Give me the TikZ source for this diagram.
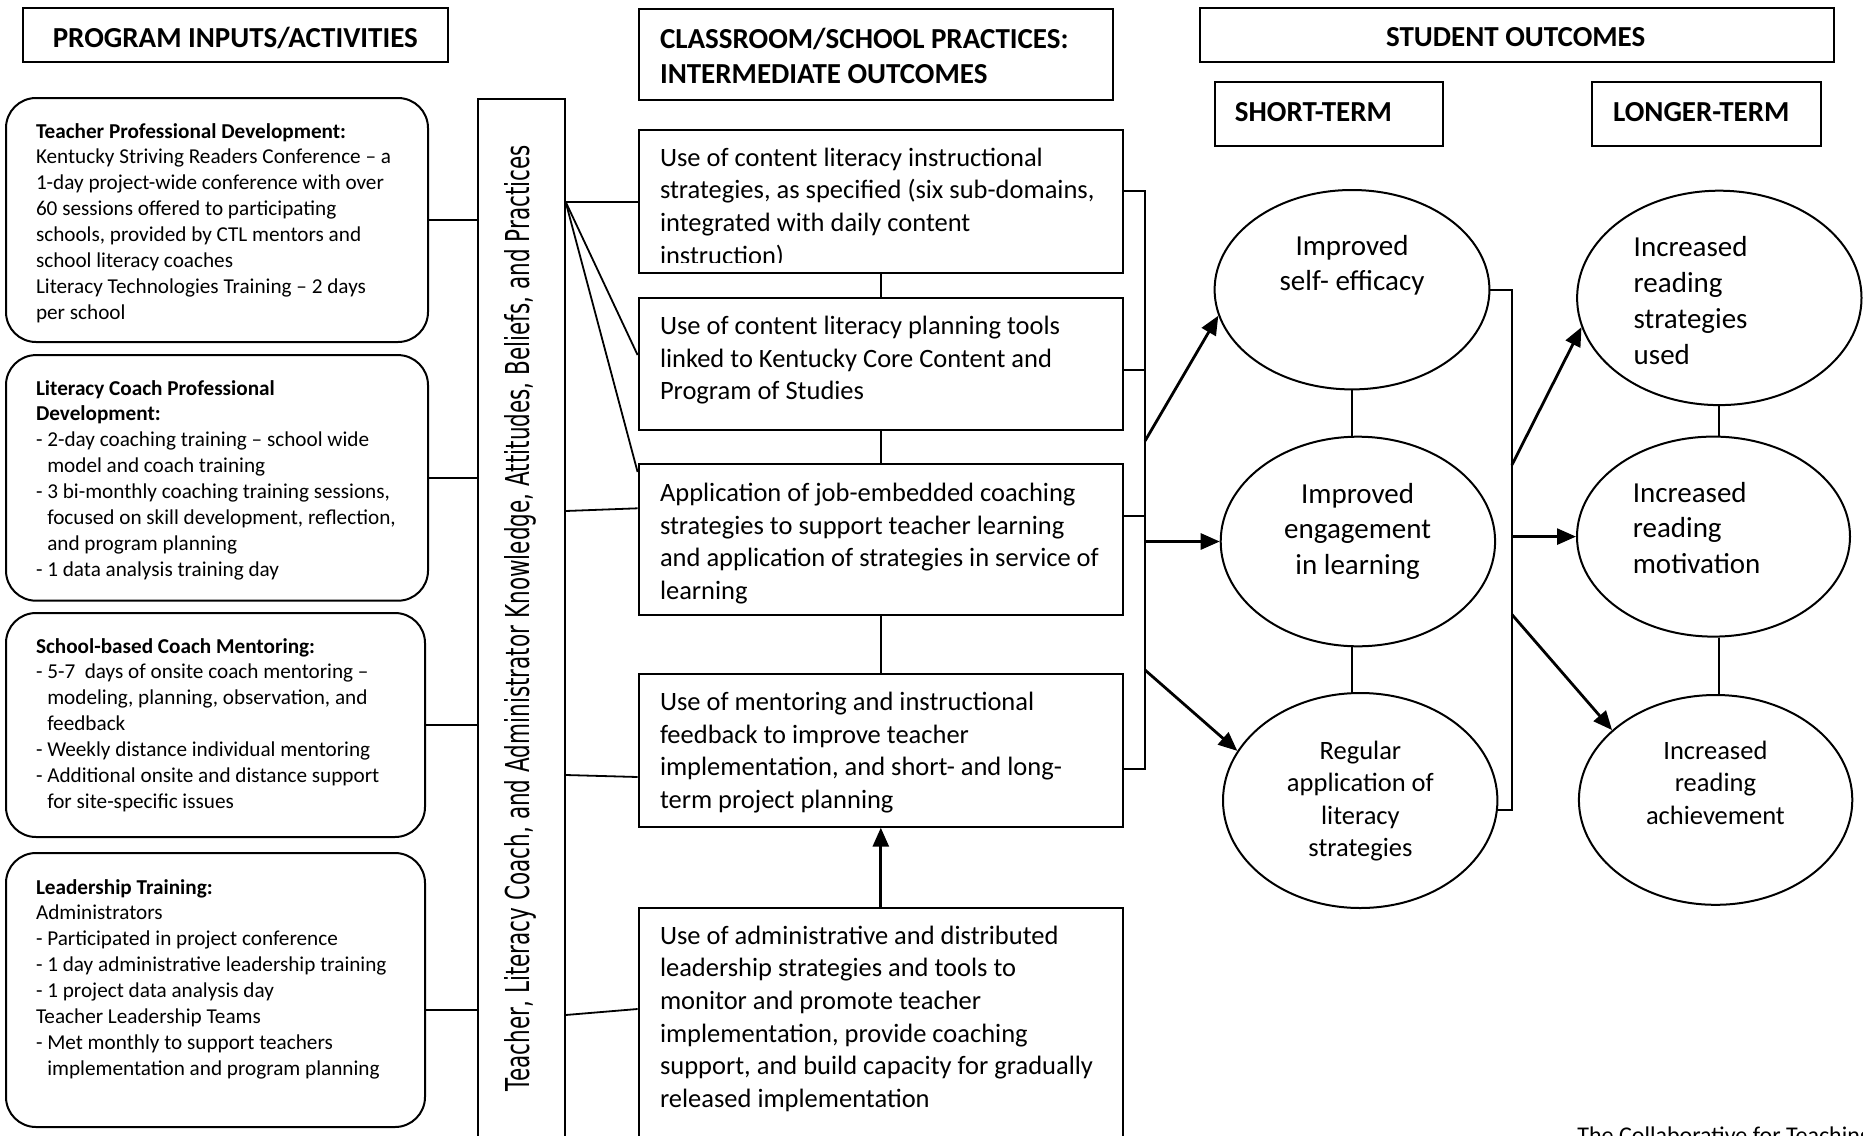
\documentclass[tikz,border=0pt]{standalone}
\usepackage{fontspec}
\usepackage{graphicx}
\setmainfont{Carlito}
\newfontfamily\vertfont{DejaVu Sans}
\usetikzlibrary{arrows.meta,shapes.geometric,calc}
\newcommand\ftL{\fontsize{10.6pt}{12.95pt}\selectfont}
\newcommand\ftM{\fontsize{13.25pt}{16.35pt}\selectfont}
\newcommand\ftH{\fontsize{14.5pt}{17.6pt}\selectfont\bfseries}
\newcommand\ftE{\fontsize{14.5pt}{17.9pt}\selectfont}
\newcommand\ftS{\fontsize{13.25pt}{16.3pt}\selectfont}
\newcommand\ind{\hphantom{- }}
\begin{document}
\begin{tikzpicture}[x=0.5pt,y=-0.5pt,
  box/.style={draw, line width=1pt, rectangle, inner sep=0pt},
  rbox/.style={box, rounded corners=15pt},
  oval/.style={draw, line width=1pt, ellipse, inner sep=0pt},
  txt/.style={inner sep=0pt, anchor=base west},
  ctxt/.style={inner sep=0pt, anchor=base},
  link/.style={line width=0.9pt},
  arr/.style={line width=1.4pt, -{Triangle[length=9.5pt,width=8pt]}}]

\clip (0,0) rectangle (1863,1135);
\fill[white] (0,0) rectangle (1863,1135);

% ---------- headers ----------
\node[box, minimum width=212.75pt, minimum height=27pt] (h1) at (235.3,35.3) {};
\node[ctxt] (h1t) at (235.3,47) {\ftH PROGRAM INPUTS/ACTIVITIES};
\node[box, minimum width=237pt, minimum height=45.3pt] (h2) at (875.7,54.7) {};
\node[txt] (h2t) at (659.6,48) {\ftH\begin{tabular}[t]{@{}l@{}}CLASSROOM/SCHOOL PRACTICES:\\INTERMEDIATE OUTCOMES\end{tabular}};
\node[box, minimum width=317pt, minimum height=27pt] (h3) at (1517,35.3) {};
\node[ctxt] (h3t) at (1515.7,46.6) {\ftH STUDENT OUTCOMES};
\node[box, minimum width=114.3pt, minimum height=32pt] (st) at (1329,113.7) {};
\node[txt] (stt) at (1234.5,121) {\ftH SHORT-TERM};
\node[box, minimum width=114.6pt, minimum height=31.8pt] (lt) at (1706.4,114.2) {};
\node[txt] (ltt) at (1612.6,121) {\ftH LONGER-TERM};

% ---------- left column ----------
\node[rbox, minimum width=211pt, minimum height=122pt] (tpd) at (217,220) {};
\node[txt] (tpdt) at (35.6,138) {\ftL\begin{tabular}[t]{@{}l@{}}\textbf{Teacher Professional Development:}\\
Kentucky Striving Readers Conference -- a\\
1-day project-wide conference with over\\
60 sessions offered to participating\\
schools, provided by CTL mentors and\\
school literacy coaches\\
Literacy Technologies Training -- 2 days\\
per school\end{tabular}};

\node[rbox, minimum width=211pt, minimum height=122.8pt] (lcpd) at (217,477.9) {};
\node[txt] (lcpdt) at (35.6,395) {\ftL\begin{tabular}[t]{@{}l@{}}\textbf{Literacy Coach Professional}\\
\textbf{Development:}\\
- 2-day coaching training -- school wide\\
\ind model and coach training\\
- 3 bi-monthly coaching training sessions,\\
\ind focused on skill development, reflection,\\
\ind and program planning\\
- 1 data analysis training day\end{tabular}};

\node[rbox, minimum width=209.5pt, minimum height=112pt] (sbcm) at (215.5,725) {};
\node[txt] (sbcmt) at (35.6,653) {\ftL\begin{tabular}[t]{@{}l@{}}\textbf{School-based Coach Mentoring:}\\
- 5-7\ \ days of onsite coach mentoring --\\
\ind modeling, planning, observation, and\\
\ind feedback\\
- Weekly distance individual mentoring\\
- Additional onsite and distance support\\
\ind for site-specific issues\end{tabular}};

\node[rbox, minimum width=209.5pt, minimum height=137pt] (ltr) at (215.5,990) {};
\node[txt] (ltrt) at (35.6,894) {\ftL\begin{tabular}[t]{@{}l@{}}\textbf{Leadership Training:}\\
Administrators\\
- Participated in project conference\\
- 1 day administrative leadership training\\
- 1 project data analysis day\\
Teacher Leadership Teams\\
- Met monthly to support teachers\\
\ind implementation and program planning\end{tabular}};

% ---------- vertical box ----------
\node[box, minimum width=43.5pt, minimum height=525.3pt] (vbox) at (521.1,624.7) {};
\node[rotate=90, anchor=base, inner sep=0pt] (vt) at (529,618) {\resizebox{473pt}{12.5pt}{\vertfont Teacher, Literacy Coach, and Administrator Knowledge, Attitudes, Beliefs, and Practices}};

% ---------- middle column ----------
\node[box, minimum width=242.2pt, minimum height=71.7pt] (b1) at (880.8,201.7) {};
\begin{scope}
\clip (b1.north west) rectangle ([yshift=6pt]b1.south east);
\node[txt] (b1t) at (659.6,166) {\ftM\begin{tabular}[t]{@{}l@{}}Use of content literacy instructional\\
strategies, as specified (six sub-domains,\\
integrated with daily content\\
instruction)\end{tabular}};
\end{scope}
\node[box, minimum width=242.2pt, minimum height=66pt] (b2) at (880.8,364) {};
\node[txt] (b2t) at (659.6,334.5) {\ftM\begin{tabular}[t]{@{}l@{}}Use of content literacy planning tools\\
linked to Kentucky Core Content and\\
Program of Studies\end{tabular}};
\node[box, minimum width=242.2pt, minimum height=75.5pt] (b3) at (880.8,539.5) {};
\node[txt] (b3t) at (659.6,501.5) {\ftM\begin{tabular}[t]{@{}l@{}}Application of job-embedded coaching\\
strategies to support teacher learning\\
and application of strategies in service of\\
learning\end{tabular}};
\node[box, minimum width=242.2pt, minimum height=76.2pt] (b4) at (880.8,750.5) {};
\node[txt] (b4t) at (659.6,710.5) {\ftM\begin{tabular}[t]{@{}l@{}}Use of mentoring and instructional\\
feedback to improve teacher\\
implementation, and short- and long-\\
term project planning\end{tabular}};
\node[box, minimum width=242.2pt, minimum height=120.8pt] (b5) at (880.8,1029.2) {};
\node[txt] (b5t) at (659.6,944) {\ftM\begin{tabular}[t]{@{}l@{}}Use of administrative and distributed\\
leadership strategies and tools to\\
monitor and promote teacher\\
implementation, provide coaching\\
support, and build capacity for gradually\\
released implementation\end{tabular}};

% ---------- ellipses ----------
\node[oval, minimum width=137.4pt, minimum height=99.7pt] (e1) at (1352,289.7) {};
\node[ctxt] (e1t) at (1352,255) {\ftE\begin{tabular}[t]{@{}c@{}}Improved\\self- efficacy\end{tabular}};
\node[oval, minimum width=137.2pt, minimum height=104.8pt] (e2) at (1357.9,541.5) {};
\node[ctxt] (e2t) at (1357.6,503) {\ftE\begin{tabular}[t]{@{}c@{}}Improved\\engagement\\in learning\end{tabular}};
\node[oval, minimum width=137.2pt, minimum height=107.5pt] (e3) at (1360.2,800.5) {};
\node[ctxt] (e3t) at (1360.4,759) {\ftS\begin{tabular}[t]{@{}c@{}}Regular\\application of\\literacy\\strategies\end{tabular}};
\node[oval, minimum width=142.2pt, minimum height=107.2pt] (e4) at (1719.3,297.9) {};
\node[txt] (e4t) at (1633.3,256.7) {\ftE\begin{tabular}[t]{@{}l@{}}Increased\\reading\\strategies\\used\end{tabular}};
\node[oval, minimum width=136.5pt, minimum height=100pt] (e5) at (1713.5,536.6) {};
\node[txt] (e5t) at (1632.4,502) {\ftE\begin{tabular}[t]{@{}l@{}}Increased\\reading\\motivation\end{tabular}};
\node[oval, minimum width=136.7pt, minimum height=104.9pt] (e6) at (1715.6,799.9) {};
\node[ctxt] (e6t) at (1715.4,759) {\ftS\begin{tabular}[t]{@{}c@{}}Increased\\reading\\achievement\end{tabular}};

\node[txt] (foot) at (1577,1143.5) {\fontsize{12pt}{14pt}\selectfont The Collaborative for Teaching and Learning};

% ---------- connectors: left ----------
\draw[link] (tpd.east) -- (tpd.east -| vbox.west);
\draw[link] (lcpd.east) -- (lcpd.east -| vbox.west);
\draw[link] (sbcm.east) -- (sbcm.east -| vbox.west);
\draw[link] ($(ltr.east)+(0,20)$) -- ($(ltr.east -| vbox.west)+(0,20)$);

% ---------- connectors: vbox to middle ----------
\coordinate (fan) at (vbox.east |- b1.west);
\draw[link] (fan) -- (b1.west);
\draw[link] (fan) -- ($(b2.west)+(0,-9)$);
\draw[link] (fan) -- ($(b3.north west)+(0,9)$);
\draw[link] ($(vbox.east |- b3.west)+(0,-28.5)$) -- ($(b3.west)+(0,-31.2)$);
\draw[link] ($(vbox.east |- b4.west)+(0,24.5)$) -- ($(b4.west)+(0,26.5)$);
\draw[link] ($(vbox.east |- b5.west)+(0,-14.2)$) -- ($(b5.west)+(0,-20.2)$);

% ---------- middle chain ----------
\draw[link] (b1.south) -- (b2.north);
\draw[link] (b2.south) -- (b3.north);
\draw[link] (b3.south) -- (b4.north);
\draw[arr] (b5.north) -- (b4.south);

% ---------- bus 1 ----------
\coordinate (bus1) at ($(b1.east)+(21,0)$);
\draw[link] ($(b1.east)+(0,-11)$) -| ($(b4.east)+(21,18.8)$) -- ($(b4.east)+(0,18.8)$);
\draw[link] ($(b2.east)+(0,6)$) -- ++(21,0);
\draw[link] ($(b3.east)+(0,-23.5)$) -- ++(21,0);
\draw[arr] ($(b2.east)+(21,77)$) -- (e1.191);
\draw[arr] (e2.west -| bus1) -- (e2.west);
\draw[arr] ($(b4.east)+(21,-80.5)$) -- (e3.158);

% ---------- ellipse chains ----------
\draw[link] (e1.south) -- (e1.south |- e2.north);
\draw[link] (e1.south |- e2.south) -- (e1.south |- e3.north);
\draw[link] (e4.south) -- (e4.south |- e5.north);
\draw[link] (e4.south |- e5.south) -- (e4.south |- e6.north);

% ---------- bus 2 ----------
\coordinate (bus2) at ($(e1.east)+(21.5,0)$);
\draw[link] (e1.east) -- (bus2) |- (e3.-4);
\draw[arr] ($(bus2)+(0,175.3)$) -- (e4.192);
\draw[arr] (e5.west -| bus2) -- (e5.west);
\draw[arr] ($(bus2)+(0,324.8)$) -- (e6.146);
\end{tikzpicture}
\end{document}
